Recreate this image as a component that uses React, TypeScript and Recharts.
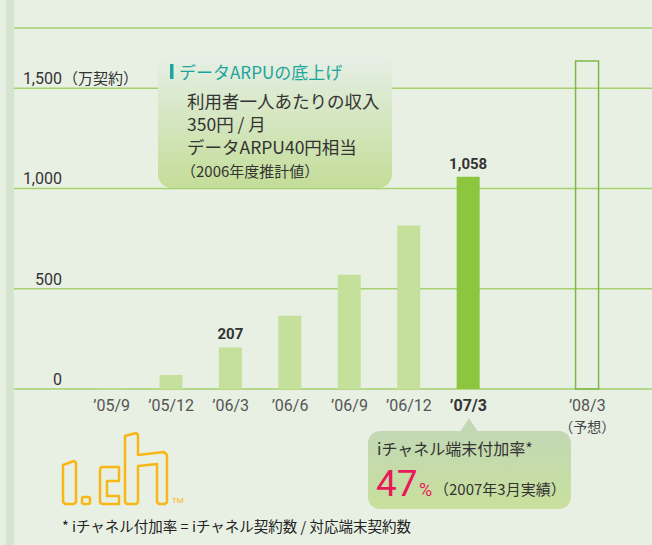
import { BarChart, Bar, XAxis, YAxis, CartesianGrid, Cell, LabelList } from 'recharts'

const periods = ['’05/9', '’05/12', '’06/3', '’06/6', '’06/9', '’06/12', '’07/3', '', '’08/3']
const subscribers = [3, 70, 207, 365, 570, 815, 1058, null, 1635]
const valueLabels = ['', '', '207', '', '', '', '1,058', '', '']
const periodNotes = ['', '', '', '', '', '', '', '', '（予想）']
const barKinds = ['past', 'past', 'past', 'past', 'past', 'past', 'latest', 'none', 'forecast']
const yTicks = [0, 500, 1000, 1500]

const BG = '#e8f0e4'
const GRID = '#a6d16c'
const LIGHT_BAR = '#c5e09b'
const DARK_BAR = '#8cc63f'
const JP = "'Noto Sans CJK JP', sans-serif"
const NUM = "Roboto, 'Noto Sans', sans-serif"

const data = periods.map((period, i) => ({
  period,
  value: subscribers[i],
  label: valueLabels[i],
  note: periodNotes[i],
  kind: barKinds[i],
}))

function YTick({ x, y, payload }: any) {
  const v = payload.value as number
  const tx = x + 48
  return (
    <g>
      <text x={tx} y={y - 4} textAnchor="end" fontSize={16} fill="#333" fontFamily={NUM}>
        {v.toLocaleString('en-US')}
      </text>
      {v === 1500 && (
        <text x={tx + 1} y={y - 4} fontSize={15} fill="#333" fontFamily={JP}>
          （万契約）
        </text>
      )}
    </g>
  )
}

function XTick({ x, y, payload, index }: any) {
  if (!payload.value) return null
  const d = data[index]
  const bold = d?.kind === 'latest'
  return (
    <g>
      <text
        x={x}
        y={y + 22}
        textAnchor="middle"
        fontSize={16}
        fontFamily={NUM}
        fontWeight={bold ? 700 : 400}
        fill={bold ? '#333' : '#555'}
      >
        {payload.value}
      </text>
      {d?.note && (
        <text x={x} y={y + 43} textAnchor="middle" fontSize={14} fontFamily={JP} fill="#444">
          {d.note}
        </text>
      )}
    </g>
  )
}

function ValueLabel({ x, y, width, value }: any) {
  if (!value) return null
  return (
    <text
      x={x + width / 2}
      y={y - 8}
      textAnchor="middle"
      fontSize={15}
      fontWeight={700}
      fontFamily={NUM}
      fill="#333"
    >
      {value}
    </text>
  )
}

function Logo() {
  // i.ch logo, outline strokes
  const s = { fill: 'none', stroke: '#f8b617', strokeWidth: 2.5, strokeLinejoin: 'round' as const }
  return (
    <g>
      <path d="M63,465 L74,461 L76,463 L76,502 L74,504 L65,504 L63,502 Z" {...s} />
      <rect x={82} y={497} width={8} height={7} rx={2} {...s} />
      <path d="M100,470 Q100,467 103,467 L119,467 L119,481 L107,481 L107,496 L119,496 L119,504 L103,504 Q100,504 100,501 Z" {...s} />
      <path d="M125,436 L136,433 L138,435 L138,455 L164,452 L167,455 L167,502 L165,504 L159,504 L157,502 L157,464 L138,466 L138,502 L136,504 L127,504 L125,502 Z" {...s} />
      <text x={172} y={503} fontSize={8} fill="#f8b617" fontFamily={NUM}>TM</text>
    </g>
  )
}

export default function App() {
  return (
    <div style={{ position: 'relative', width: 652, height: 545, background: BG, overflow: 'hidden' }}>
      <style>{'body{margin:0}'}</style>
      <div style={{ position: 'absolute', left: 6, top: 0, width: 8, height: 545, background: '#d5e4cf' }} />
      <div style={{ position: 'absolute', left: 0, top: 0 }}>
        <BarChart width={652} height={545} data={data} margin={{ top: 28, right: 0, bottom: 116, left: 0 }}>
          <CartesianGrid vertical={false} stroke={GRID} strokeWidth={1.5} />
          <YAxis
            width={14}
            domain={[0, 1800]}
            ticks={yTicks}
            axisLine={false}
            tickLine={false}
            tickSize={0}
            tickMargin={0}
            tick={<YTick />}
          />
          <XAxis
            dataKey="period"
            height={40}
            padding={{ left: 68, right: 35 }}
            axisLine={false}
            tickLine={false}
            tickSize={0}
            tickMargin={0}
            interval={0}
            tick={<XTick />}
          />
          <Bar dataKey="value" barSize={23} isAnimationActive={false}>
            {data.map((d) => (
              <Cell
                key={d.period || 'gap'}
                fill={d.kind === 'forecast' ? 'none' : d.kind === 'latest' ? DARK_BAR : LIGHT_BAR}
                stroke={d.kind === 'forecast' ? '#7db64a' : 'none'}
                strokeWidth={d.kind === 'forecast' ? 1.5 : 0}
              />
            ))}
            <LabelList dataKey="label" content={<ValueLabel />} />
          </Bar>
        </BarChart>
      </div>
      <svg width={652} height={545} style={{ position: 'absolute', left: 0, top: 0, pointerEvents: 'none' }}>
        <defs>
          <linearGradient id="boxA" x1="0" y1="0" x2="0" y2="1">
            <stop offset="0%" stopColor="#e6efe6" />
            <stop offset="100%" stopColor="#c3dd98" />
          </linearGradient>
          <linearGradient id="boxB" x1="0" y1="0" x2="0" y2="1">
            <stop offset="0%" stopColor="#c2d8b4" />
            <stop offset="100%" stopColor="#c8e09c" />
          </linearGradient>
        </defs>
        <rect x={158} y={55} width={234} height={133} rx={14} fill="url(#boxA)" />
        <rect x={170} y={64} width={3.5} height={15} fill="#1ca59c" />
        <text x={179} y={79} fontSize={17} fill="#1ca59c" fontFamily={JP}>データARPUの底上げ</text>
        <text x={187} y={108} fontSize={17.5} fill="#333" fontFamily={JP}>利用者一人あたりの収入</text>
        <text x={187} y={131} fontSize={17.5} fill="#333" fontFamily={JP}>350円 / 月</text>
        <text x={187} y={154} fontSize={17.5} fill="#333" fontFamily={JP}>データARPU40円相当</text>
        <text x={181} y={177} fontSize={15} fill="#333" fontFamily={JP}>（2006年度推計値）</text>

        <path d="M460,432 L469,418 L478,432 Z" fill="#c2d8b4" />
        <rect x={368} y={431} width={203} height={78} rx={12} fill="url(#boxB)" />
        <text x={377} y={455} fontSize={16} fill="#333" fontFamily={JP}>iチャネル端末付加率*</text>
        <text x={376} y={496} fontSize={37} fill="#e8185a" fontFamily={NUM}>47</text>
        <text x={419} y={496} fontSize={18} fill="#e8185a" fontFamily={NUM}>%</text>
        <text x={434} y={495} fontSize={15} fill="#333" fontFamily={JP}>（2007年3月実績）</text>

        <Logo />
        <text x={62} y={532} fontSize={14.5} fill="#222" fontFamily={JP}>* iチャネル付加率 = iチャネル契約数 / 対応端末契約数</text>
      </svg>
    </div>
  )
}
